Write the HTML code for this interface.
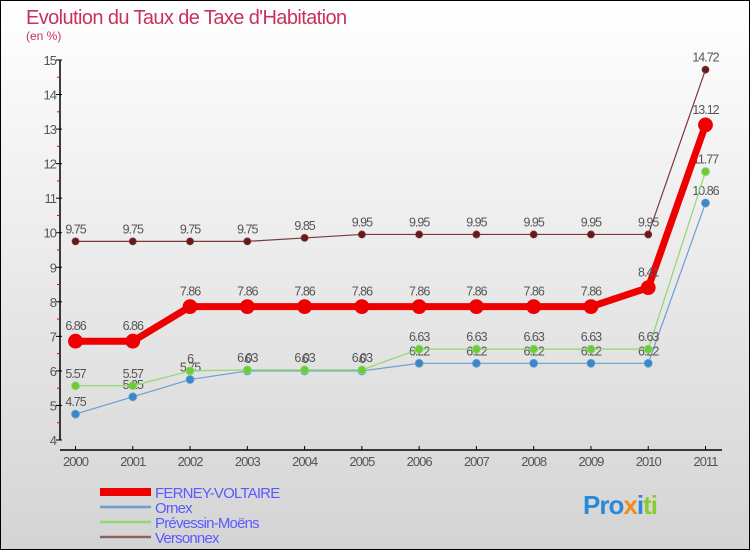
<!DOCTYPE html>
<html><head><meta charset="utf-8"><style>
html,body{margin:0;padding:0}
body{width:750px;height:550px;overflow:hidden;font-family:"Liberation Sans",sans-serif}
</style></head><body>
<svg width="750" height="550" xmlns="http://www.w3.org/2000/svg">
<defs><linearGradient id="bg" x1="0" y1="0" x2="0" y2="1"><stop offset="0" stop-color="#ffffff"/><stop offset="1" stop-color="#d4d4d4"/></linearGradient></defs>
<rect x="0.5" y="0.5" width="749" height="549" fill="url(#bg)" stroke="#000"/>
<text x="26" y="24" font-size="20" fill="#c8325a" letter-spacing="-0.6">Evolution du Taux de Taxe d'Habitation</text>
<text x="26" y="40" font-size="12" fill="#c8325a">(en %)</text>
<g id="axes"></g><g id="series"></g><g id="legend"></g>
</svg>
<script>
const years=["2000","2001","2002","2003","2004","2005","2006","2007","2008","2009","2010","2011"];
const ferney=[6.86,6.86,7.86,7.86,7.86,7.86,7.86,7.86,7.86,7.86,8.41,13.12];
const ornex=[4.75,5.25,5.75,6,6,6,6.22,6.22,6.22,6.22,6.22,10.86];
const prevessin=[5.57,5.57,6,6.03,6.03,6.03,6.63,6.63,6.63,6.63,6.63,11.77];
const versonnex=[9.75,9.75,9.75,9.75,9.85,9.95,9.95,9.95,9.95,9.95,9.95,14.72];
const yTicks=[4,5,6,7,8,9,10,11,12,13,14,15];
const NS="http://www.w3.org/2000/svg";
const X=i=>75.5+i*57.2727;
const Y=v=>440-(v-4)*34.545;
function mk(tag,attrs,parent,txt){const e=document.createElementNS(NS,tag);for(const k in attrs)e.setAttribute(k,attrs[k]);if(txt!==undefined)e.textContent=txt;parent.appendChild(e);return e;}
const ax=document.getElementById('axes');
let l=mk('line',{x1:60,y1:Y(15),x2:60,y2:Y(4),stroke:'#000','stroke-width':1.5},ax);


l=mk('line',{x1:60,y1:450,x2:722,y2:450,stroke:'#000','stroke-width':1.5},ax);


yTicks.forEach(v=>{
  mk('line',{x1:56,y1:Y(v),x2:62,y2:Y(v),stroke:'#000'},ax);
  if(v<15)mk('line',{x1:57,y1:Y(v+0.5),x2:60,y2:Y(v+0.5),stroke:'#e00'},ax);
  const t=mk('text',{x:56,y:Y(v)+5,'font-size':13,fill:'#555','text-anchor':'end','letter-spacing':'-1'},ax,String(v));
  
  
});
years.forEach((y,i)=>{
  mk('line',{x1:X(i),y1:446,x2:X(i),y2:450,stroke:'#000'},ax);
  const t=mk('text',{x:X(i),y:466,'font-size':13,fill:'#555','text-anchor':'middle','letter-spacing':'-1'},ax,y);
  
  
});
const sg=document.getElementById('series');
function series(vals,color,dot,width,r,name){
  const g=mk('g',{},sg);
  
  
  const p=mk('polyline',{points:vals.map((v,i)=>X(i)+','+Y(v)).join(' '),fill:'none',stroke:color,'stroke-width':width,'stroke-linejoin':'round'},g);
  
  
  vals.forEach((v,i)=>{
    const c=mk('circle',{cx:X(i),cy:Y(v),r:r,fill:dot,stroke:color,'stroke-width':0.8},g);
    
    
    const t=mk('text',{x:X(i),y:Y(v)-8-(r>5?3:0),'font-size':12.5,fill:'#555','text-anchor':'middle','letter-spacing':'-1'},g,String(v));
    
    
  });
}
series(versonnex,'#7a3a3a','#6a1818',1.2,3.5,'versonnex');
series(ornex,'#6aa0d0','#3a88c8',1.2,4,'ornex');
series(prevessin,'#90d870','#6acc3a',1.2,4,'prevessin');
series(ferney,'#ee0000','#ee0000',7,7,'ferney');
const lg=document.getElementById('legend');
const items=[["FERNEY-VOLTAIRE","#ee0000",8],["Ornex","#6aa0d0",2.5],["Prévessin-Moëns","#90d870",2.5],["Versonnex","#906060",2.5]];
items.forEach((it,k)=>{
  const y=492+k*15;
  const g=mk('g',{},lg);
  
  
  mk('line',{x1:100,y1:y,x2:151,y2:y,stroke:it[1],'stroke-width':it[2]},g);
  mk('text',{x:155,y:y+6,'font-size':15,fill:'#5a5aff','letter-spacing':'-0.8'},g,it[0]);
});
</script>
<div style="position:absolute;left:583px;top:490px;font:bold 26px 'Liberation Sans',sans-serif;letter-spacing:-1px"><span style="color:#2a8ad8">Pro</span><span style="color:#f08a20">x</span><span style="color:#2a8ad8">i</span><span style="color:#8acc30">ti</span></div>
</body></html>
